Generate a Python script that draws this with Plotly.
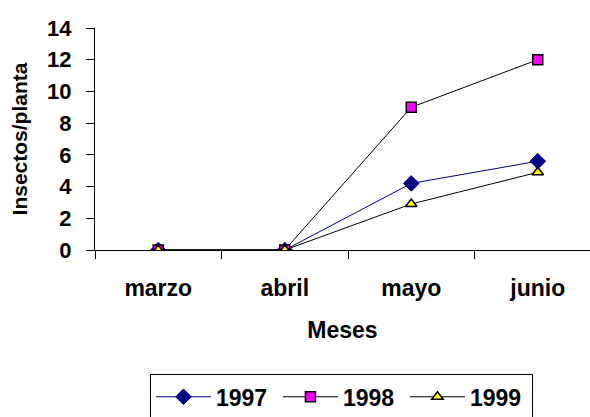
import plotly.graph_objects as go

# Monthly insect counts per plant, by year
meses = ["marzo", "abril", "mayo", "junio"]
y1997 = [0, 0, 4.2, 5.6]
y1998 = [0, 0, 9.0, 12.0]
y1999 = [0, 0, 2.9, 4.9]

FONT = "Liberation Sans, Arial, sans-serif"

fig = go.Figure()

fig.add_trace(go.Scatter(
    x=meses, y=y1997, name="1997", mode="lines+markers",
    line=dict(color="#000080", width=1),
    marker=dict(symbol="diamond", size=12, color="#000080",
                line=dict(color="#000080", width=1)),
))
fig.add_trace(go.Scatter(
    x=meses, y=y1998, name="1998", mode="lines+markers",
    line=dict(color="black", width=1),
    marker=dict(symbol="square", size=10, color="#ff00ff",
                line=dict(color="black", width=1.5)),
))
fig.add_trace(go.Scatter(
    x=meses, y=y1999, name="1999", mode="lines+markers",
    line=dict(color="black", width=1),
    marker=dict(symbol="triangle-up", size=10, color="#ffff00",
                line=dict(color="black", width=1.5)),
))

fig.update_layout(
    width=590, height=417,
    margin=dict(l=95, r=0, t=28, b=167, autoexpand=False),
    paper_bgcolor="white", plot_bgcolor="white",
    font=dict(family=FONT, size=20, color="black"),
    showlegend=True,
    legend=dict(
        orientation="h",
        x=0.111, xanchor="left",
        y=-0.56, yanchor="top",
        bordercolor="black", borderwidth=1,
        font=dict(family=FONT, size=23, color="black", weight="bold"),
        itemwidth=55,
        entrywidth=57, entrywidthmode="pixels",
        traceorder="normal",
    ),
)

fig.update_xaxes(
    type="category",
    range=[-0.5, 3.413],
    showline=True, linecolor="black", linewidth=1,
    showgrid=False, zeroline=False,
    ticks="outside", ticklen=8, tickcolor="black", tickwidth=1,
    tickson="boundaries",
    ticklabelstandoff=17,
    tickfont=dict(family=FONT, size=23, color="black", weight="bold"),
    title=dict(text="Meses", standoff=22,
               font=dict(family=FONT, size=23, color="black", weight="bold")),
)

fig.update_yaxes(
    range=[0, 14],
    dtick=2,
    showline=True, linecolor="black", linewidth=1,
    showgrid=False, zeroline=False,
    ticks="outside", ticklen=8, tickcolor="black", tickwidth=1,
    ticklabelstandoff=10,
    tickfont=dict(family=FONT, size=22, color="black", weight="bold"),
    title=dict(text="Insectos/planta", standoff=13,
               font=dict(family=FONT, size=21, color="black", weight="bold")),
)

fig.write_html("out.html")
